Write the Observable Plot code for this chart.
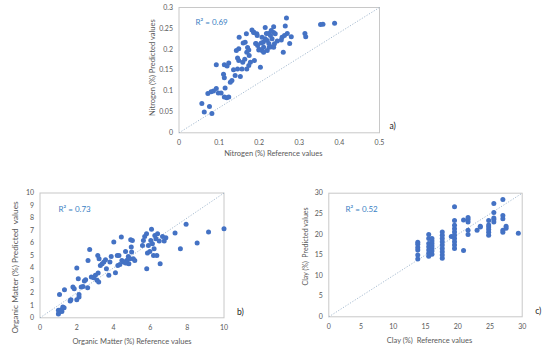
<!DOCTYPE html>
<html><head><meta charset="utf-8">
<script src="https://cdn.jsdelivr.net/npm/d3@7"></script>
<script src="https://cdn.jsdelivr.net/npm/@observablehq/plot@0.6"></script>
<style>
html,body{margin:0;padding:0;background:#fff;}
#chart{position:relative;width:550px;height:353px;overflow:hidden;}
#chart svg{position:absolute;left:0;top:0;}
</style></head><body><div id="chart"></div>
<script>
// ---- Data: [reference, predicted] ----
const nitrogenPoints = [
[0.057,0.070],[0.063,0.050],[0.076,0.063],[0.082,0.046],[0.072,0.094],[0.080,0.098],[0.086,0.100],[0.093,0.106],[0.098,0.095],[0.093,0.163],
[0.113,0.163],[0.124,0.167],[0.111,0.140],[0.113,0.132],[0.115,0.107],[0.113,0.086],[0.119,0.084],[0.124,0.086],[0.128,0.121],[0.132,0.125],
[0.136,0.151],[0.140,0.137],[0.146,0.153],[0.149,0.173],[0.146,0.179],[0.143,0.197],[0.149,0.201],[0.150,0.229],[0.153,0.135],[0.157,0.153],
[0.159,0.169],[0.164,0.176],[0.165,0.217],[0.168,0.237],[0.171,0.204],[0.169,0.193],[0.174,0.198],[0.169,0.153],[0.174,0.161],[0.178,0.169],
[0.182,0.246],[0.186,0.240],[0.188,0.173],[0.193,0.213],[0.194,0.237],[0.196,0.209],[0.199,0.198],[0.203,0.157],[0.207,0.229],[0.207,0.197],
[0.210,0.217],[0.211,0.205],[0.211,0.193],[0.215,0.252],[0.218,0.238],[0.220,0.221],[0.220,0.197],[0.224,0.214],[0.224,0.238],[0.228,0.233],
[0.230,0.206],[0.232,0.225],[0.236,0.254],[0.236,0.240],[0.238,0.213],[0.240,0.237],[0.236,0.205],[0.255,0.222],[0.257,0.229],[0.260,0.193],
[0.263,0.233],[0.268,0.275],[0.265,0.256],[0.270,0.238],[0.276,0.214],[0.280,0.230],[0.314,0.238],[0.316,0.230],[0.353,0.259],[0.359,0.260],
[0.388,0.262],[0.187,0.241],[0.195,0.233],[0.191,0.214],[0.205,0.215],[0.225,0.205],[0.215,0.225],[0.200,0.200],[0.245,0.220],[0.230,0.245],
[0.175,0.185],[0.160,0.215],[0.120,0.160],[0.105,0.095]
];
const organicPoints = [
[1.00,0.30],[1.04,0.45],[1.00,0.60],[1.15,0.64],[1.24,0.86],[1.31,0.80],[1.19,0.50],[1.06,1.87],[1.33,2.25],[1.64,1.34],
[1.68,1.44],[1.79,2.46],[1.86,2.33],[2.00,4.00],[2.08,3.13],[2.00,1.44],[2.12,1.66],[2.12,1.87],[2.24,2.46],[2.34,2.50],
[2.41,2.94],[2.48,3.05],[2.59,2.41],[2.61,4.60],[2.70,5.48],[2.79,3.26],[2.92,3.21],[3.01,3.40],[3.10,3.00],[3.16,3.58],
[3.19,2.86],[3.14,5.00],[3.21,4.73],[3.28,4.20],[3.38,4.33],[3.47,4.47],[3.56,4.65],[3.61,3.93],[3.74,3.40],[3.80,4.47],
[3.87,4.92],[4.01,6.07],[4.10,3.61],[4.20,5.00],[4.23,4.20],[4.29,5.00],[4.34,4.28],[4.42,6.47],[4.45,4.60],[4.56,4.47],
[4.65,5.32],[4.71,4.60],[4.74,4.39],[4.80,4.92],[4.89,4.73],[4.93,6.26],[4.96,5.67],[4.98,5.27],[5.02,6.20],[5.07,4.73],
[5.15,4.60],[4.83,4.33],[4.65,4.39],[5.57,5.80],[5.62,6.20],[5.69,6.52],[5.79,6.74],[5.80,3.93],[5.84,5.19],[5.89,5.80],
[5.97,5.32],[6.02,6.20],[6.06,7.09],[6.11,5.94],[6.17,5.00],[6.20,5.53],[6.24,6.60],[6.30,6.34],[6.35,5.00],[6.39,6.74],
[6.48,6.15],[6.53,4.33],[6.66,6.52],[6.75,6.15],[6.84,6.42],[7.34,6.79],[7.63,5.53],[7.94,7.49],[8.54,5.99],[9.16,6.87],
[10.0,7.14]
];
const clayPoints = [
[13.8,14.0],[13.8,15.0],[13.8,16.2],[13.8,16.8],[13.8,17.6],[13.8,18.1],
[15.5,14.7],[15.5,15.4],[15.5,16.2],[15.5,17.0],[15.5,17.8],[15.5,19.0],[15.5,20.0],
[16.0,15.2],[16.0,16.0],[16.0,16.6],[16.0,17.2],[16.0,17.8],[16.0,18.4],[16.0,19.0],
[17.6,14.2],[17.6,15.0],[17.6,15.8],[17.6,16.6],[17.6,17.4],[17.6,18.2],[17.6,19.0],[17.6,19.8],[17.6,20.6],
[19.0,19.5],
[19.5,16.6],[19.5,17.4],[19.5,18.2],[19.5,19.0],[19.5,19.8],[19.5,20.6],[19.5,21.4],[19.5,22.2],[19.5,23.4],[19.5,26.7],
[20.9,16.1],[20.9,23.5],
[21.6,20.0],[21.6,21.0],[21.6,23.0],[21.6,23.6],[21.6,24.1],
[23.0,21.0],[23.5,21.8],[23.5,22.0],
[24.8,19.8],[24.8,20.5],[24.8,21.2],[24.8,21.8],[24.8,22.3],[24.8,23.4],
[25.6,23.0],[25.6,23.6],[25.6,24.0],[25.6,25.3],[25.6,27.5],
[27.0,20.5],[27.0,21.0],[27.0,23.8],[27.0,24.6],[27.0,28.5],
[27.5,21.5],[27.5,22.0],
[29.4,20.3]
];
// ---- Axes / labels ----
const nitrogenXTicks = [0,0.1,0.2,0.3,0.4,0.5];
const nitrogenYTicks = [0,0.05,0.1,0.15,0.2,0.25,0.3];
const organicXTicks = [0,2,4,6,8,10];
const organicYTicks = [0,1,2,3,4,5,6,7,8,9,10];
const clayXTicks = [0,5,10,15,20,25,30];
const clayYTicks = [0,5,10,15,20,25,30];
const panelLetters = ["a)","b)","c)"];
const r2Labels = ["R\u00b2 = 0.69","R\u00b2 = 0.73","R\u00b2 = 0.52"];
const xTitles = ["Nitrogen (%) Reference values","Organic Matter (%) Reference values","Clay (%)\u00a0 Reference values"];
const yTitles = ["Nitrogen (%) Predicted values","Organic Matter (%) Predicted\u00a0 values","Clay (%)\u00a0 Predicted values"];

const W = 550, H = 353;
const FONT = "Lato, 'Open Sans', sans-serif";
const GREY = "#595959";

function panel(o) {
  const xd = [o.xTicks[0], o.xTicks[o.xTicks.length-1]];
  const yd = [o.yTicks[0], o.yTicks[o.yTicks.length-1]];
  return Plot.plot({
    width: W, height: H,
    marginLeft: o.box[0], marginTop: o.box[1],
    marginRight: W - o.box[2], marginBottom: H - o.box[3],
    x: {domain: xd}, y: {domain: yd},
    style: {background: "transparent", fontFamily: FONT, fontSize: "7px", color: GREY, overflow: "visible"},
    marks: [
      Plot.frame({stroke: "#c8c8c8", strokeWidth: 1}),
      Plot.link([0], {x1: () => xd[0], y1: () => yd[0], x2: () => xd[1], y2: () => yd[1],
        stroke: "#8fa9c4", strokeWidth: 0.8, strokeDasharray: "1.2,1.6"}),
      Plot.dot(o.data, {x: d => d[0], y: d => d[1], r: 2.5, fill: "#4472c4", stroke: "none"}),
      Plot.axisX(o.xTicks, {tickSize: 0, tickPadding: 7, label: null, tickFormat: d => String(d), fill: GREY, fontSize: 7}),
      Plot.axisY(o.yTicks, {tickSize: 0, tickPadding: 6, label: null, tickFormat: d => String(d), fill: GREY, fontSize: 7}),
      Plot.text([o.xTitle], {frameAnchor: "bottom", dy: o.xTitleDy, dx: o.xTitleDx, textAnchor: "middle", fill: GREY, fontSize: 7.5, lineAnchor: "middle"}),
      Plot.text([o.yTitle], {frameAnchor: "left", dx: o.yTitleDx, dy: o.yTitleDy, rotate: -90, textAnchor: "middle", fill: GREY, fontSize: o.yTitleSize, lineAnchor: "middle"}),
      Plot.text([o.r2], {frameAnchor: "top-left", dx: o.r2Dx, dy: o.r2Dy, textAnchor: "start", lineAnchor: "middle", fill: "#3b7fc4", fontSize: 8}),
      Plot.text([o.letter], {frameAnchor: "bottom-right", dx: o.letterDx, dy: o.letterDy, textAnchor: "start", lineAnchor: "middle", fill: "#222", fontSize: 8.5})
    ]
  });
}

const chart = document.getElementById("chart");
chart.append(panel({
  data: nitrogenPoints, xTicks: nitrogenXTicks, yTicks: nitrogenYTicks,
  box: [178.5, 7, 379, 132.3],
  xTitle: xTitles[0], xTitleDy: 21, xTitleDx: -6,
  yTitle: yTitles[0], yTitleDx: -26.5, yTitleDy: -2.5, yTitleSize: 7.5,
  r2: r2Labels[0], r2Dx: 16.5, r2Dy: 15,
  letter: panelLetters[0], letterDx: 10, letterDy: -7
}));
chart.append(panel({
  data: organicPoints, xTicks: organicXTicks, yTicks: organicYTicks,
  box: [39.5, 192.5, 223.5, 317.3],
  xTitle: xTitles[1], xTitleDy: 24, xTitleDx: 0,
  yTitle: yTitles[1], yTitleDx: -24.5, yTitleDy: 12, yTitleSize: 8.3,
  r2: r2Labels[1], r2Dx: 18.5, r2Dy: 16.5,
  letter: panelLetters[1], letterDx: 13, letterDy: -6
}));
chart.append(panel({
  data: clayPoints, xTicks: clayXTicks, yTicks: clayYTicks,
  box: [328.3, 192.7, 521.7, 316.3],
  xTitle: xTitles[2], xTitleDy: 24, xTitleDx: 4,
  yTitle: yTitles[2], yTitleDx: -23.3, yTitleDy: -8.5, yTitleSize: 7,
  r2: r2Labels[2], r2Dx: 16.7, r2Dy: 16.5,
  letter: panelLetters[2], letterDx: 13, letterDy: -6
}));
</script></body></html>
